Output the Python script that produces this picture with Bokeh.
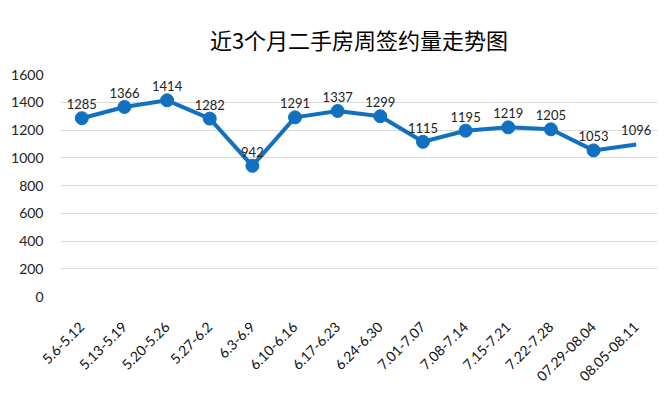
import math
from bokeh.plotting import figure
from bokeh.models import ColumnDataSource, FixedTicker, Range1d, LabelSet
from bokeh.core.properties import value
from bokeh.embed import file_html
from bokeh.resources import INLINE

weeks = ["5.6-5.12", "5.13-5.19", "5.20-5.26", "5.27-6.2", "6.3-6.9", "6.10-6.16",
         "6.17-6.23", "6.24-6.30", "7.01-7.07", "7.08-7.14", "7.15-7.21", "7.22-7.28",
         "07.29-08.04", "08.05-08.11"]
deals = [1285, 1366, 1414, 1282, 942, 1291, 1337, 1299, 1115, 1195, 1219, 1205, 1053, 1096]
y_ticks = [0, 200, 400, 600, 800, 1000, 1200, 1400, 1600]
title_text = "近3个月二手房周签约量走势图"

BLUE = "#1170C0"
src = ColumnDataSource(dict(x=weeks, y=deals, lab=[str(v) for v in deals]))
mk = ColumnDataSource(dict(x=weeks[:-1], y=deals[:-1]))

p = figure(width=663, height=389, x_range=weeks, y_range=Range1d(0, 1600),
           output_backend="svg", toolbar_location=None,
           min_border_left=60, min_border_right=6, min_border_top=67, min_border_bottom=93)
p.title.text = title_text
p.title.align = "center"
p.title.offset = -24
p.title.text_font = "Noto Sans CJK SC"
p.title.text_font_size = "22px"
p.title.text_font_style = "normal"
p.title.text_color = "#000000"
p.title.text_line_height = 0.8
p.title.standoff = 40
p.outline_line_color = None

p.line("x", "y", source=src, line_color=BLUE, line_width=4)
p.scatter("x", "y", source=mk, size=13, fill_color=BLUE, line_color=BLUE)

labels = LabelSet(x="x", y="y", text="lab", source=src, y_offset=9, text_align="center",
                  text_baseline="bottom", text_font=value("Lato"), text_font_size="13px",
                  text_color="#222222")
p.add_layout(labels)

p.yaxis.ticker = FixedTicker(ticks=y_ticks)
p.yaxis.axis_line_color = None
p.yaxis.major_tick_line_color = None
p.yaxis.minor_tick_line_color = None
p.yaxis.major_label_standoff = 11
p.yaxis.major_label_text_font = "Lato"
p.yaxis.major_label_text_font_size = "14px"
p.yaxis.major_label_text_color = "#222222"

p.xaxis.axis_line_color = None
p.xaxis.major_tick_line_color = None
p.xaxis.major_label_orientation = math.pi / 4
p.xaxis.major_label_standoff = 22
p.xaxis.major_label_text_font = "Lato"
p.xaxis.major_label_text_font_size = "14px"
p.xaxis.major_label_text_color = "#111111"

p.xgrid.grid_line_color = None
p.ygrid.grid_line_color = "#D9D9D9"
p.ygrid.grid_line_width = 1
p.ygrid.ticker = FixedTicker(ticks=y_ticks)

open("out.html", "w").write(file_html(p, INLINE))
